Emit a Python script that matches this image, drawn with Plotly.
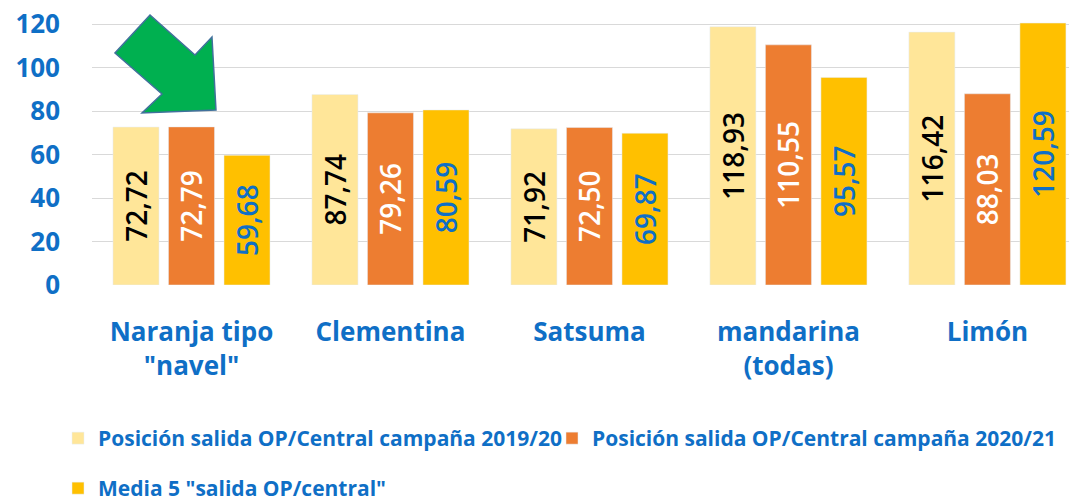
import plotly.graph_objects as go

categories = ['Naranja tipo<br>"navel"', 'Clementina', 'Satsuma', 'mandarina<br>(todas)', 'Limón']
serie_2019_20 = [72.72, 87.74, 71.92, 118.93, 116.42]
serie_2020_21 = [72.79, 79.26, 72.50, 110.55, 88.03]
media_5 = [59.68, 80.59, 69.87, 95.57, 120.59]
names = ['Posición salida OP/Central campaña 2019/20',
         'Posición salida OP/Central campaña 2020/21',
         'Media 5 "salida OP/central"']
y_ticks = [0, 20, 40, 60, 80, 100, 120]

BLUE = '#0F6FC6'
W, H = 1069, 501
L, R, T, B = 92, 0, 20, 216

fig = go.Figure()
series = [
    (serie_2019_20, '#FFE699', 'black', 'legend'),
    (serie_2020_21, '#ED7D31', 'white', 'legend3'),
    (media_5, '#FFC000', BLUE, 'legend2'),
]
for (vals, color, tcolor, leg), name in zip(series, names):
    fig.add_trace(go.Bar(
        x=list(range(len(categories))),
        y=vals,
        name=name,
        marker_color=color,
        texttemplate='%{y:.2f}',
        textposition='inside',
        insidetextanchor='middle',
        textangle=-90,
        textfont=dict(family='Open Sans', size=28, color=tcolor, weight=600),
        legend=leg,
    ))


# pixel -> paper coords
def to_paper(px, py):
    return (px - L) / (W - L - R), (H - B - py) / (H - T - B)


# green arrow
arrow_px = [(150, 15), (115, 53), (162, 94), (142, 113), (216, 110), (212, 37), (195, 55)]
pts = [to_paper(x, y) for x, y in arrow_px]
path = 'M ' + ' L '.join(f'{x:.4f},{y:.4f}' for x, y in pts) + ' Z'
fig.add_shape(type='path', path=path, xref='paper', yref='paper',
              fillcolor='#00B050', line=dict(color='#41719C', width=1.5))

lx1, ly1 = to_paper(58, 418)
lx3, _ = to_paper(552, 418)
_, ly2 = to_paper(58, 468)
leg_style = dict(orientation='h', xanchor='left', yanchor='top', itemwidth=30,
                 bgcolor='rgba(0,0,0,0)',
                 font=dict(size=21, color=BLUE, weight='bold'))

fig.update_layout(
    width=W, height=H,
    margin=dict(l=L, r=R, t=T, b=B, autoexpand=False),
    plot_bgcolor='white', paper_bgcolor='white',
    separators=',.',
    barmode='group', bargap=0.163, bargroupgap=0.171,
    font=dict(family='Open Sans', color=BLUE),
    xaxis=dict(
        range=[-0.5, 4.41],
        tickvals=list(range(len(categories))),
        ticktext=categories,
        tickfont=dict(size=26, color=BLUE, weight='bold'),
        ticklabelstandoff=29,
        showgrid=False, zeroline=False, showline=False,
    ),
    yaxis=dict(
        range=[0, 122],
        tickvals=y_ticks,
        tickfont=dict(size=26, color=BLUE, weight='bold'),
        ticklabelstandoff=31,
        ticklabeloverflow='allow',
        gridcolor='#D9D9D9', gridwidth=1,
        zeroline=False, showline=False,
    ),
    legend=dict(x=lx1, y=ly1, **leg_style),
    legend3=dict(x=lx3, y=ly1, **leg_style),
    legend2=dict(x=lx1, y=ly2, **leg_style),
    showlegend=True,
)

# drop the default 8px body margin so the figure fills the window
fig.write_html('out.html', config={'displayModeBar': False},
               post_script="document.body.style.margin='0';")
